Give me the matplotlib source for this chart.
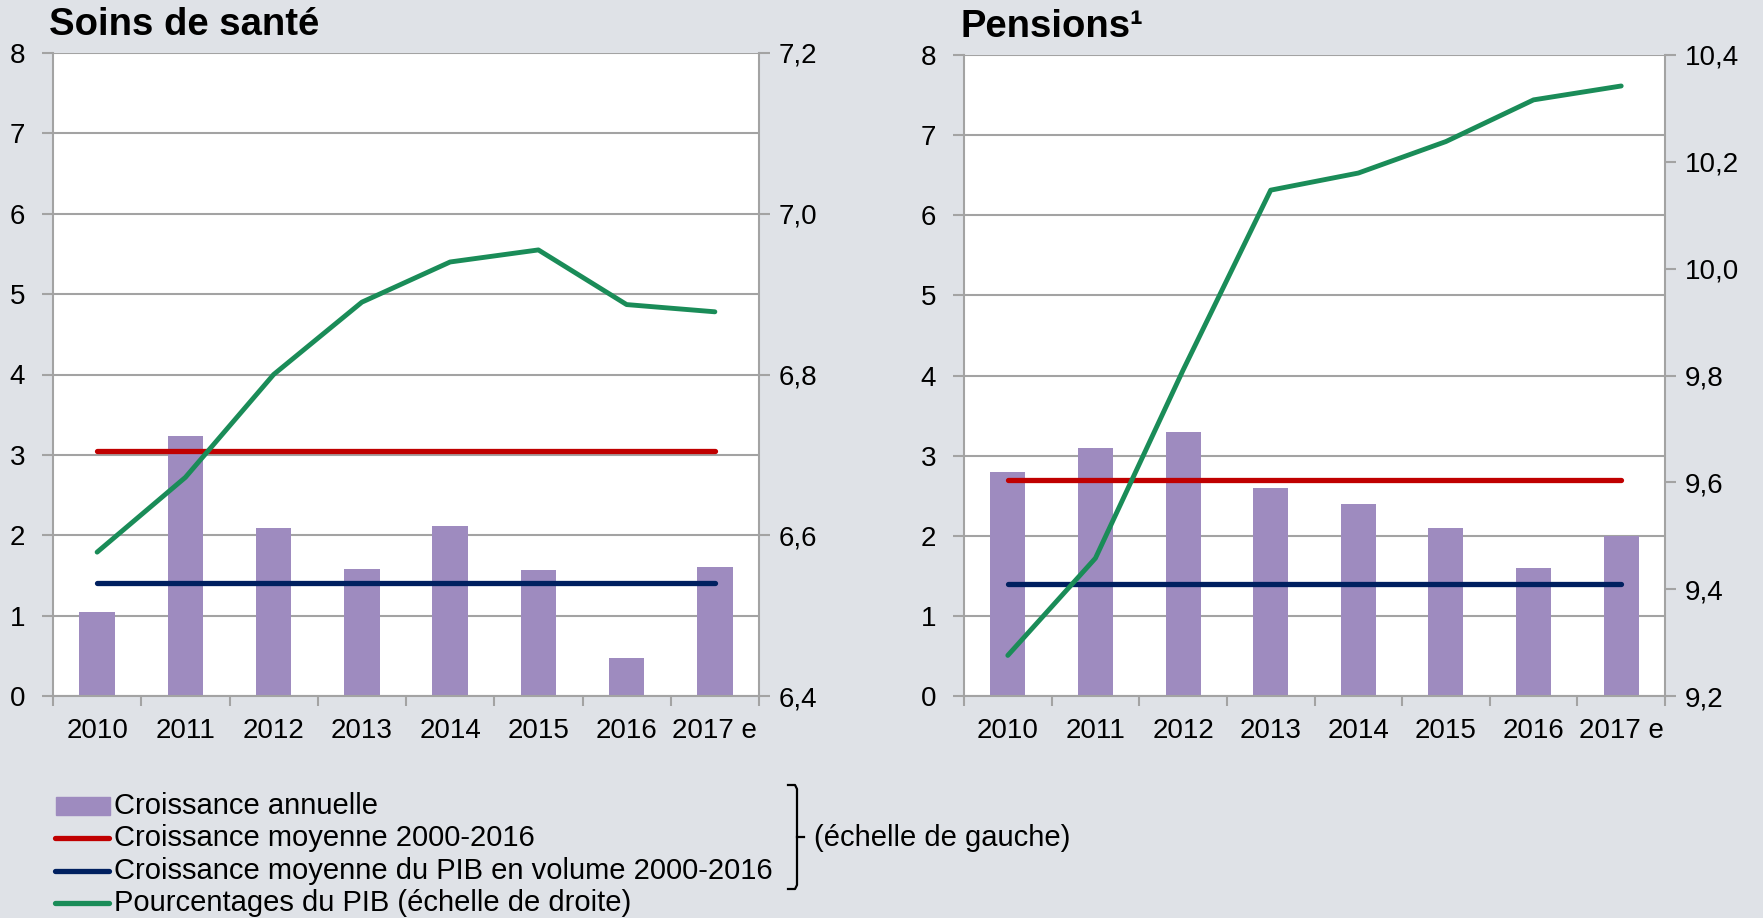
import matplotlib
matplotlib.use("Agg")
import matplotlib.pyplot as plt
import numpy as np
from matplotlib.ticker import FuncFormatter, FixedLocator
from matplotlib.lines import Line2D
from matplotlib.patches import Rectangle

plt.rcParams['font.family'] = ['Liberation Sans', 'DejaVu Sans']

categories = ["2010", "2011", "2012", "2013", "2014", "2015", "2016", "2017 e"]

# Soins de santé
sante_croissance = [1.04, 3.24, 2.09, 1.58, 2.12, 1.57, 0.47, 1.60]
sante_moyenne = 3.05
sante_pib_vol = 1.41
sante_pct_pib = [6.579, 6.672, 6.80, 6.89, 6.94, 6.955, 6.887, 6.878]

# Pensions
pens_croissance = [2.8, 3.1, 3.3, 2.6, 2.4, 2.1, 1.6, 2.0]
pens_moyenne = 2.7
pens_pib_vol = 1.40
pens_pct_pib = [9.276, 9.458, 9.81, 10.147, 10.179, 10.238, 10.316, 10.342]

titles = ["Soins de santé", "Pensions\u00b9"]
left_ticks = [0, 1, 2, 3, 4, 5, 6, 7, 8]
right_ticks_sante = [6.4, 6.6, 6.8, 7.0, 7.2]
right_ticks_pens = [9.2, 9.4, 9.6, 9.8, 10.0, 10.2, 10.4]

legend_labels = ["Croissance annuelle", "Croissance moyenne 2000-2016",
                 "Croissance moyenne du PIB en volume 2000-2016",
                 "Pourcentages du PIB (échelle de droite)"]
bracket_label = "(échelle de gauche)"

BG = "#dfe2e7"
GRID = "#a3a3a3"
BAR = "#9e8bbf"
RED = "#c00000"
NAVY = "#002060"
GREEN = "#1a8c58"

W, H = 1763, 918
fig = plt.figure(figsize=(W / 100, H / 100), dpi=100, facecolor=BG)

def fx(px):
    return px / W

def fy(py):
    return 1 - py / H

comma = FuncFormatter(lambda v, p: f"{v:.1f}".replace(".", ","))
TICK_FS = 20

def panel(rect, bars, red, navy, green, rticks, title):
    ax = fig.add_axes(rect)
    ax.set_facecolor("white")
    x = np.arange(len(categories))
    ax.bar(x, bars, width=0.4, color=BAR, zorder=2)
    ax.plot(x, np.full(len(x), red), color=RED, lw=3.8, solid_capstyle='round', zorder=3)
    ax.plot(x, np.full(len(x), navy), color=NAVY, lw=3.8, solid_capstyle='round', zorder=3)
    ax.set_xlim(-0.5, len(x) - 0.5)
    ax.set_ylim(left_ticks[0], left_ticks[-1])
    ax.set_yticks(left_ticks)
    ax.yaxis.grid(True, color=GRID, lw=1.5, zorder=0)
    ax.set_axisbelow(True)
    ax.set_xticks(x)
    ax.set_xticklabels(categories)
    ax.xaxis.set_minor_locator(FixedLocator(np.arange(-0.5, len(x), 1.0)))
    ax.tick_params(axis='x', which='major', length=0, pad=16, labelsize=TICK_FS)
    ax.tick_params(axis='x', which='minor', length=7, width=1.5, color=GRID)
    ax.tick_params(axis='y', length=8, width=1.5, color=GRID, labelsize=TICK_FS, pad=12)
    for s in ['left', 'right', 'bottom']:
        ax.spines[s].set_color(GRID)
        ax.spines[s].set_linewidth(1.5)
    ax.spines['top'].set_visible(False)

    ax2 = ax.twinx()
    ax2.plot(x, green, color=GREEN, lw=3.5, solid_capstyle='round', zorder=4)
    ax2.set_ylim(rticks[0], rticks[-1])
    ax2.set_yticks(rticks)
    ax2.yaxis.set_major_formatter(comma)
    ax2.tick_params(axis='y', length=8, width=1.5, color=GRID, labelsize=TICK_FS, pad=6)
    for s in ax2.spines.values():
        s.set_visible(False)
    ax.set_title(title, loc='left', fontsize=27.5, fontweight='bold', pad=13, x=-0.005)
    return ax

panel([fx(53), fy(696), fx(759 - 53), fy(53) - fy(696)],
      sante_croissance, sante_moyenne, sante_pib_vol, sante_pct_pib, right_ticks_sante, titles[0])
panel([fx(964), fy(696), fx(1665 - 964), fy(55) - fy(696)],
      pens_croissance, pens_moyenne, pens_pib_vol, pens_pct_pib, right_ticks_pens, titles[1])

# Legend
rows = [806, 838, 871, 903]
fig.patches.append(Rectangle((fx(56), fy(rows[0] + 9)), fx(54), fy(rows[0] - 9) - fy(rows[0] + 9),
                             transform=fig.transFigure, color=BAR))
for py, c in zip(rows[1:], [RED, NAVY, GREEN]):
    fig.lines.append(Line2D([fx(55), fx(109)], [fy(py), fy(py)], transform=fig.transFigure,
                            color=c, lw=3.8, solid_capstyle='round'))
for py, lab in zip(rows, legend_labels):
    fig.text(fx(114), fy(py), lab, fontsize=21, va='center', ha='left')

# Bracket
bx = 797
fig.lines.append(Line2D([fx(788), fx(bx - 2), fx(bx), fx(bx), fx(bx - 2), fx(788)],
                        [fy(785), fy(785), fy(789), fy(885), fy(889), fy(889)],
                        transform=fig.transFigure, color="black", lw=1.6))
fig.lines.append(Line2D([fx(bx), fx(804)], [fy(837), fy(837)], transform=fig.transFigure,
                        color="black", lw=1.6))
fig.text(fx(814), fy(838), bracket_label, fontsize=21, va='center', ha='left')

fig.savefig("out.png", dpi=100, facecolor=BG)
